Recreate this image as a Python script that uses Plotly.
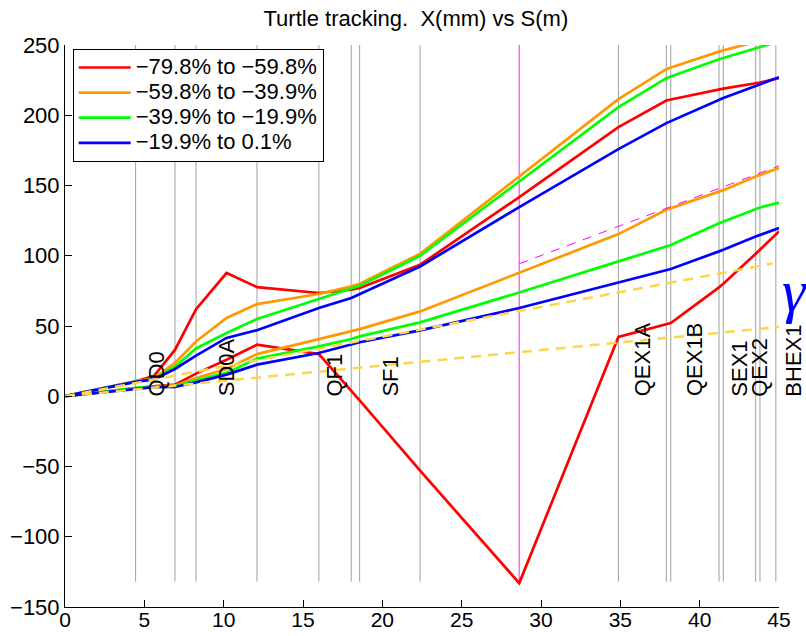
import plotly.graph_objects as go

# Beam-line positions S (m) where the tracked envelopes are sampled
s_pts = [0, 4.45, 5.6, 6.93, 8.26, 10.18, 12.1, 16.0, 18.04, 18.57, 22.38,
         28.63, 34.88, 37.9, 38.18, 41.22, 41.49, 43.53, 43.8, 45.0]

# Upper envelopes X (mm) per momentum band
red_hi = [0, 10.6, 14.3, 33, 62, 87.7, 77.7, 73.5, 75.8, 77, 93.6,
          141.7, 191.5, 210.5, 211.2, 218.5, 219, 222.8, 223.3, 226.4]
orange_hi = [0, 10.6, 12.5, 23.7, 39, 55.7, 65.6, 72.8, 78.2, 80.1, 101.4,
             156.4, 211.4, 232.8, 234, 245.3, 246.2, 252.2, 253, 256.5]
green_hi = [0, 10.5, 12.2, 21, 34, 45, 55, 69.2, 76.3, 78.7, 100,
            152.9, 205.8, 226.4, 227.6, 239.9, 240.8, 247.7, 248.5, 252.5]
blue_hi = [0, 10.2, 12, 19.4, 28.9, 41.5, 47, 62.8, 69.9, 72.7, 92.4,
           134.6, 175.9, 194.4, 195.8, 211, 212.2, 220.9, 222, 227.1]

# Lower envelopes X (mm) per momentum band
red_lo = [0, 5.9, 7, 8.3, 16.1, 26, 36.7, 30, 3.7, -3, -53,
          -133, 42.2, 50.9, 52.1, 77.5, 80, 101.4, 104.3, 117.3]
orange_lo = [0, 5.9, 7, 7.5, 13, 19.4, 30, 40.7, 46.2, 47.8, 60.4,
             88.1, 115.4, 132.7, 133.8, 145.7, 146.7, 156.4, 157.6, 162.4]
green_lo = [0, 5.9, 6.8, 7, 11.3, 16.6, 26.8, 35.5, 40.7, 42.6, 52.6,
            73.9, 96, 106.6, 107.6, 123.2, 124.4, 133.2, 134.4, 137.9]
blue_lo = [0, 5.5, 6.5, 6.6, 9.9, 15.4, 22.5, 30.8, 36.7, 38.4, 46.9,
           62.8, 81, 89.6, 90.6, 103.1, 104.2, 113.7, 114.8, 119.7]

band_names = ["\u221279.8% to \u221259.8%", "\u221259.8% to \u221239.9%",
              "\u221239.9% to \u221219.9%", "\u221219.9% to 0.1%"]
band_colors = ["#ff0000", "#ff9900", "#00ff00", "#0000ff"]

# Reference straight lines (yellow dashed) and magenta dashed line
yel_hi_s, yel_hi_x = [0, 44.6], [0, 94.5]
yel_lo_s, yel_lo_x = [0, 45.0], [0, 49.3]
mag_s, mag_x = [28.63, 45.0], [94.3, 164]
mag_marker_s = 28.63

# Element boundaries along the line
elem_s = [4.45, 6.93, 8.26, 12.1, 16.0, 18.04, 18.57, 22.38,
          34.88, 37.9, 38.18, 41.22, 41.49, 43.53, 43.8, 44.8]
elem_bottom, elem_top = -132, 250

# Element names and label positions
label_names = ["QD0", "SD0A", "QF1", "SF1", "QEX1A", "QEX1B", "SEX1", "QEX2", "BHEX1"]
label_s = [5.77, 10.2, 17.0, 20.5, 36.36, 39.72, 42.5, 43.8, 45.9]
label_y = -1.5

X_RANGE = [0, 45]
Y_RANGE = [-150, 250]
FONT = "Liberation Sans, Arial, Helvetica, sans-serif"

fig = go.Figure()

# element boundary lines
vx, vy = [], []
for s in elem_s:
    vx += [s, s, None]
    vy += [elem_bottom, elem_top, None]
fig.add_trace(go.Scatter(x=vx, y=vy, mode="lines", showlegend=False,
                         line=dict(color="#a0a0a0", width=1), hoverinfo="skip"))
fig.add_trace(go.Scatter(x=[mag_marker_s, mag_marker_s], y=[-133, elem_top],
                         mode="lines", showlegend=False,
                         line=dict(color="#ff66ff", width=1.5), hoverinfo="skip"))

# envelopes
his = [red_hi, orange_hi, green_hi, blue_hi]
los = [red_lo, orange_lo, green_lo, blue_lo]
for name, col, hi, lo in zip(band_names, band_colors, his, los):
    fig.add_trace(go.Scatter(x=s_pts, y=hi, mode="lines",
                             name="<span style='font-size:22px'>" + name + "</span>",
                             legendgroup=name, line=dict(color=col, width=2.7)))
    fig.add_trace(go.Scatter(x=s_pts, y=lo, mode="lines", name=name,
                             legendgroup=name, showlegend=False,
                             line=dict(color=col, width=2.7)))

# reference lines
for xs, ys in [(yel_hi_s, yel_hi_x), (yel_lo_s, yel_lo_x)]:
    fig.add_trace(go.Scatter(x=xs, y=ys, mode="lines", showlegend=False,
                             line=dict(color="#ffd54a", width=2.5, dash="10px,7px")))
fig.add_trace(go.Scatter(x=mag_s, y=mag_x, mode="lines", showlegend=False,
                         line=dict(color="#ff00ff", width=1, dash="9px,8px")))


def to_paper_x(s):
    return (s - X_RANGE[0]) / (X_RANGE[1] - X_RANGE[0])


def to_paper_y(v):
    return (v - Y_RANGE[0]) / (Y_RANGE[1] - Y_RANGE[0])


annotations = []
for name, s in zip(label_names, label_s):
    annotations.append(dict(text=name, x=to_paper_x(s), y=to_paper_y(label_y),
                            xref="paper", yref="paper", textangle=-90,
                            xanchor="center", yanchor="bottom", showarrow=False,
                            font=dict(family=FONT, size=22, color="black")))
annotations.append(dict(text="<i>\u03b3</i>", x=to_paper_x(46.0), y=to_paper_y(75),
                        xref="paper", yref="paper", showarrow=False,
                        xanchor="center", yanchor="middle",
                        font=dict(family="Liberation Serif, serif", size=60, color="#0000ff")))

fig.update_layout(
    width=806, height=636,
    margin=dict(l=65, r=27, t=45, b=29),
    paper_bgcolor="white", plot_bgcolor="white",
    font=dict(family=FONT, size=22, color="black"),
    title=dict(text="Turtle tracking.\u00a0 X(mm) vs S(m)", x=0.516, xanchor="center",
               y=0.972, yanchor="middle", font=dict(family=FONT, size=22, color="black")),
    xaxis=dict(range=X_RANGE, tickmode="array", tickvals=list(range(0, 46, 5)),
               ticks="inside", ticklen=7, tickcolor="black", showline=True,
               linecolor="black", linewidth=1, showgrid=False, zeroline=False,
               automargin=False, ticklabelstandoff=-6,
               tickfont=dict(family=FONT, size=21, color="black")),
    yaxis=dict(range=Y_RANGE, tickmode="array", tickvals=list(range(-150, 251, 50)),
               ticks="inside", ticklen=7, tickcolor="black", showline=True,
               linecolor="black", linewidth=1, showgrid=False, zeroline=False,
               automargin=False,
               tickfont=dict(family=FONT, size=22, color="black")),
    legend=dict(x=0.0108, y=0.993, xanchor="left", yanchor="top",
                bgcolor="white", bordercolor="black", borderwidth=1,
                tracegroupgap=0, itemwidth=52,
                font=dict(family=FONT, size=17, color="black")),
    annotations=annotations,
    showlegend=True,
)

fig.write_html("out.html")
